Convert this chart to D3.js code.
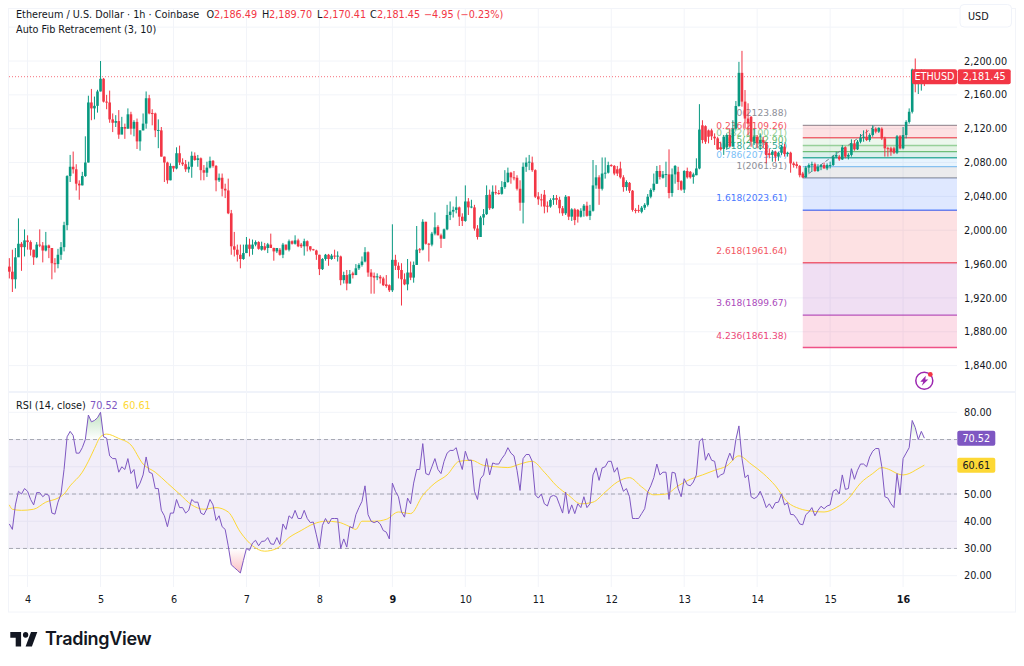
<!DOCTYPE html>
<meta charset="utf-8">
<title>ETHUSD 1h</title>
<style>
  html, body { margin: 0; background: #fff; }
  text { font-family: "DejaVu Sans", sans-serif; font-size: 9.7px; fill: #131722; }
</style>
<svg width="1024" height="666"></svg>
<script src="https://d3js.org/d3.v7.min.js"></script>
<script>

  // hourly candles
  var opens = [1957,1951,1942,1968,1984,1980,1988,1986,1977,1968,1983,1982,1976,1982,1979,1961,1960,1971,1980,2006,2064,2075,2072,2055,2053,2064,2080,2151,2144,2147,2164,2179,2152,2151,2131,2127,2129,2113,2122,2120,2137,2120,2128,2105,2118,2126,2156,2138.5,2138,2118,2118,2087,2080,2059,2076,2073,2091,2080,2078,2072,2075,2088,2083,2085,2071,2068,2074,2082,2076,2059,2062,2049,2047,2020,1981,1977,1971,1966,1973,1983,1978,1983,1986,1977,1981,1979,1983,1979,1975,1977,1971,1983,1977,1987,1984,1988,1983,1981,1987,1981,1977.5,1976,1971,1954,1966,1971,1966,1970,1969,1969,1941,1947,1937,1949,1947,1955,1959,1963,1974,1950,1946,1945,1945,1943,1936,1935,1929,1965,1958,1953,1942,1936,1950,1944,1959,1977.5,1977,2010,1984,1983,1996,2004,1994,1990,2001,2018,2022,2024,2027,2016,2011,2034,2027,2027,2002,1992,2015,2019,2042,2026,2045,2044,2043,2051,2057,2068,2062.5,2062,2049,2032.5,2075,2080,2080,2071,2040,2036.5,2042,2029,2028,2036,2038,2036,2026,2020,2040,2016,2024.6,2024,2016,2023,2029,2017,2023,2053,2062.5,2049,2067,2068,2077,2076,2072,2073,2062.5,2051,2056,2046.7,2024,2024,2021.8,2026.6,2030,2039.6,2047.5,2055,2070,2062,2066,2066,2044,2066,2069,2058,2048,2070,2069,2063,2065,2073,2124,2123,2118,2118,2110.5,2108.6,2098,2096,2098,2112.5,2099,2120,2146.8,2186,2152,2132,2134,2104.6,2110.5,2102.7,2106.6,2103.5,2091,2089,2092.8,2087,2091.6,2098.7,2090,2091.6,2079,2078,2076,2067,2062.5,2074,2077,2078,2070,2075,2077,2073,2076,2077,2087,2087,2083.7,2098,2087,2089,2102.7,2095.6,2104.6,2109.4,2110.5,2106.6,2112.5,2120,2116.5,2120,2108.6,2097,2096.8,2096.8,2091.6,2111,2096.8,2112.5,2128,2140,2190,2178,2184,2186.49];
  var highs = [1967,1977,1979,2014,1986,2001,1994,1988,1977,1986,2001,1986,1998,1983,1979,1967,1978,1986,2010,2065,2089,2093,2078,2059,2069,2111,2159,2167,2158,2166,2200,2180,2160,2165,2138,2136,2142,2134,2126,2144,2140,2130,2132,2118,2138,2164,2160,2143,2139,2131,2122,2087,2081,2079,2076,2098,2100,2085,2083,2081,2093,2092,2089,2086,2077,2081,2087,2083,2077,2067,2067,2055,2061,2024,1998,1983,1983,1983,1992,1990,1989,1988,1987,1986.5,1985,1985,1996,1979.4,1979,1979,1985,1983,1989,1988,1994,1990,1985,1990,1988,1981,1978,1977,1971,1967,1972,1972,1972,1977,1975,1970,1951,1953,1953,1951,1960,1961,1969,1980,1975,1954,1950,1949,1947,1945,1947,1936,2007,1971,1962,1961,1949,1966,1963,1963,2005,1979,2013,2010,1985,1998,2021,2006,1996,2002,2030,2034,2028,2040,2028,2020,2053,2038,2036,2030,2006,2017,2025,2053,2048,2053,2053,2047.5,2058,2071,2074,2069,2070,2065,2059,2080,2086,2089,2087,2072,2045,2043,2047.5,2034,2037.7,2041.6,2041.6,2039.6,2028.6,2041.6,2040,2026,2026,2025,2026,2031,2033.7,2030,2083,2077,2065,2086,2086,2081,2078,2077,2076,2081,2065,2059,2057,2047.5,2026,2030,2028.6,2032,2042.8,2049.5,2067,2076,2077,2070,2081,2095.6,2073,2077,2075,2059,2071,2074,2070,2068,2085,2149,2130,2124,2119,2120,2114.5,2110.5,2104.6,2112.5,2114.5,2120,2130,2152.7,2199,2212,2165.7,2150,2135,2120,2112.5,2114.5,2110.5,2104.6,2096.8,2094.8,2094,2092.8,2100.7,2102,2092.8,2092.8,2081,2081,2077,2069,2076,2079,2081,2080,2078,2078,2080,2079,2081,2089,2092.8,2089,2100.7,2099,2091,2107.4,2106.6,2106.6,2113.7,2118,2119,2114.5,2124,2121.6,2121.6,2121.6,2110.5,2098.7,2098.7,2098.7,2112.5,2112.5,2122,2130,2144,2191,2203,2188,2190,2189.7];
  var lows = [1943,1927,1931,1969,1952,1969,1977,1970,1959,1967,1980,1962,1975,1967,1942,1950,1955,1965,1975,2000,2057,2067,2047,2036,2053,2063,2080,2130,2131,2139,2164,2151,2143,2127,2116,2122,2108,2114,2108,2120,2113,2111,2096,2094,2118,2120,2137,2124,2110,2097,2087,2057,2055,2059,2069,2072,2077,2076,2069,2068,2062,2082,2075,2059,2059,2063,2073,2074,2046,2057,2040,2038,2019,1971,1969,1963,1955,1965,1973,1969,1971,1981,1977,1975.8,1976,1973,1979,1964,1973,1970,1967,1976,1975,1983,1983,1980,1979,1970,1975,1975,1976,1965,1947,1953,1964,1958,1965,1966,1963,1935,1937,1929,1937,1943,1947,1953,1957,1962,1945,1925,1925,1941,1937,1934,1932,1927,1927,1953,1943,1911,1935,1929,1941,1938,1959,1973,1976,1983,1963,1981,1994,1994,1979,1990,2000,2012,2015,2020,2005,2005,2010,2018,2026,1999.5,1989,1992,2006,2018,2024,2025,2042,2042,2042,2049,2056,2055,2059,2047,2023,2008,2069,2071,2069,2038,2030,2028,2020,2021,2026.6,2030,2030,2020,2017,2018,2012,2011,2006,2009,2015,2016,2016,2012,2022,2049,2030,2047,2061,2067,2075,2065,2064,2061,2045.5,2046.7,2044,2022,2020,2020.7,2020,2024,2028,2037.7,2045.5,2054.6,2060,2061,2051,2037.7,2039.6,2055,2047.5,2046.7,2044,2061,2061,2055,2065,2072,2102.7,2102,2102.7,2106.6,2100.7,2094.8,2094,2089,2095,2098.7,2098.7,2118,2146,2146,2120,2112.5,2098.7,2100.7,2096.8,2094.8,2096.8,2079,2085,2081,2081,2082,2089,2087,2087,2068,2074,2073,2062.5,2061.91,2061.91,2068,2069,2069,2069,2071,2073,2071,2073,2076,2085,2082,2083,2085,2083.7,2087,2094,2094.8,2102.7,2104.6,2105.4,2104.6,2110.5,2114.5,2115,2106.6,2087,2087,2088,2090,2090,2095.6,2095.6,2108.6,2126,2138,2163,2161,2165,2170.41];
  var closes = [1951,1942,1968,1984,1980,1988,1986,1977,1968,1983,1982,1976,1982,1979,1961,1960,1971,1980,2006,2064,2075,2072,2055,2053,2064,2080,2151,2144,2147,2164,2179,2152,2151,2131,2127,2129,2113,2122,2120,2137,2120,2128,2105,2118,2126,2156,2138,2138,2118,2118.5,2087,2080,2059,2076,2073,2091,2080,2078,2072,2075,2088,2083,2085,2071,2068,2074,2082,2076,2059,2062,2049,2047,2020,1981,1977,1971,1966,1973,1983,1978,1983,1986,1978,1981.4,1977,1983.3,1979,1975,1979,1971,1983,1977,1987,1984,1988,1981,1981,1987,1981,1977,1976.5,1971,1954,1966,1971,1966,1970,1969,1970,1941,1947,1937,1948,1947,1955,1959,1963,1974,1950,1945,1944,1945.5,1943,1935,1934,1929,1965,1958,1953,1942,1936,1950,1944,1959,1977,1977,2010,1984,1983,1996,2003.4,1994,1990,2001,2018,2022,2024,2027,2016,2011,2034,2027,2028,2002,1992,2015,2019,2041.6,2026,2045.5,2044,2043,2051,2057,2068,2062.5,2062,2049,2032.5,2075,2080,2081,2071,2039.6,2036.5,2036,2028,2028.6,2035.7,2037.7,2036,2026,2020,2039.6,2016,2024.6,2012,2016,2023,2029,2017,2023,2053,2062.5,2049,2067,2068,2077,2076,2067,2067,2062.5,2051,2057,2046.7,2024,2022.7,2023,2026.6,2030,2039.6,2047.5,2055,2070,2063,2066,2066.4,2044,2066,2076,2057,2048,2070,2062.5,2062.5,2066,2073,2119,2106.6,2104.6,2110.5,2111,2108.6,2095.6,2095.6,2110.5,2112.5,2099,2120,2146.8,2186,2152,2132,2126,2104.6,2110.5,2102.7,2106.6,2103.5,2088.9,2088.9,2092.8,2087,2091.6,2098.7,2090,2091.6,2079,2077,2075.9,2065,2062.5,2074,2077,2078,2070,2075,2077,2073,2077,2077,2087,2089,2083.7,2098,2087,2089,2102.7,2095.6,2104.6,2109.4,2110.5,2106.6,2112.5,2120,2116.5,2121,2108.6,2096.8,2096,2092.8,2091.6,2111,2096.8,2112.5,2128,2140,2190,2178,2184,2186,2181.45];

  // RSI (14, close), one value per candle
  var rsi = [39,37,46,51,50,52,51,48,46,50.5,50.5,49,50,49.5,43,42.6,47,50,59,71,73,71.5,65,65,67,70,79,76.5,77,78,80,71,70.5,64,63,63,58,60,59,63,57.5,59,52,54,57,63.6,58,57.5,52,52,44,42,38,43,43,48,45,45,43,44,48,47,47,43,42.4,44.6,48,46,40.3,42,38,37,31,24,23,22,21,25.6,30,29.3,32,33,31,32.6,32.7,34,31.7,31.5,34,31.5,39,37,42,41,44,41,41,44,41,39.5,39.7,35,30,38.5,41,39,41,41,41,30,33.5,30.5,38,37.5,42.4,45,47.3,53,42.4,40,39.5,40,39,36.6,36,33.5,54,51,49,43.4,41.5,48.5,46.4,54,59,59,68.5,57.5,57,60,63,59,57.5,62,65,66,66,67,62.4,59,65.7,62.4,62.4,51,48,55.6,57,63,57,61.4,61,61,63,64.5,67,65,64,58.7,51.3,63,64.5,64.5,62,49.7,48.5,50,46.4,45.6,49,49.5,49,46,43,50.7,42.8,46,42.8,46.4,45,49,45,46.4,57,59.6,55,59.6,60,62,62,58,59.7,54.4,51,52,49,41,41,41,42.8,44.6,50.7,53,56,61,57,58,58,48,58,57.7,52,49,55.6,53.4,53,54.4,57,69.4,70.4,62.4,65,62.4,62,56,57,57.5,62,65,62.4,70,75,63,56,57,49,48.3,49,51,48.3,45,46.4,44.6,46.8,47,50,46,46.8,42.5,42.4,41,39,38.7,42.4,43.4,45,42,44,45.5,44.6,45.6,46,51,51.7,50,57,51.7,52,59.3,55.4,58.7,61,61,60,63.6,65.7,66.7,66.7,60,49,48.5,46.4,45,57.5,49.7,63,65,67,77,74.4,70,73,70.52];

  // RSI moving average, read at these candles
  var maIndex = [0,1,4,8,12,16,18,20,24,26,28,30,32,36,40,44,48,52,56,60,64,68,72,76,80,84,88,92,96,100,104,108,112,114,116,120,124,128,132,136,140,144,148,152,156,160,164,168,172,176,180,184,188,192,196,200,204,208,212,216,220,224,228,232,236,240,244,248,252,256,260,264,268,272,276,280,284,287,290,292,294,296,298,301];
  var maValues = [46,44.4,44,44.4,47,48.5,50,53,58,62,66.7,71,72,70.4,68,61,58,54,50,46,44.4,45,43.4,36,31,29,30,34,36.6,39,40,39.7,38,37,40,40,40.7,43.4,42.8,49.5,54,57,62,62.4,60.5,60,59.7,61,62,58,53,49.5,46.4,47,50.7,54.4,56,52.6,49.7,50,53,55.4,57,58.7,60.3,64,61,57.5,53,47,44.6,43.7,43.4,45,48.3,54,57.5,59.7,58.7,57.5,57,57.5,58.7,60.61];

  // auto fib levels
  var fibRatios = ["0","0.236","0.382","0.5","0.618","0.786","1","1.618","2.618","3.618","4.236"];
  var fibPrices = [2123.88,2109.26,2100.21,2092.90,2085.58,2075.17,2061.91,2023.61,1961.64,1899.67,1861.38];
  var fibColors = ["#787b86","#f23645","#81c784","#4caf50","#089981","#64b5f6","#787b86","#2962ff","#f23645","#9c27b0","#e91e63"];

  var priceTicks = [2240,2200,2160,2120,2080,2040,2000,1960,1920,1880,1840];
  var rsiTicks = [80,70,60,50,40,30,20];
  var dayLabels = ["4","5","6","7","8","9","10","11","12","13","14","15","16"];
  var dayIndex = [6,30,54,78,102,126,150,174,198,222,246,270,294];
  var boldDays = ["9","16"];

  var lastPrice = 2181.45, lastRsi = 70.52, lastMa = 60.61, fibFrom = 261, fibTo = 285;
  var up = "#089981", down = "#f23645", gridColor = "#f2f4f9";

  var svg = d3.select("svg");
  var x = d3.scaleLinear().domain([0, 301]).range([9.33, 924.37]);
  var y = d3.scaleLinear().domain([2200, 1840]).range([61, 365.6]);
  var yr = d3.scaleLinear().domain([80, 20]).range([412.3, 575.7]);
  var right = 957, fmt = d3.format(",.2f");

  var defs = svg.append("defs");
  defs.append("clipPath").attr("id", "over").append("rect").attr("x", 9).attr("y", 393).attr("width", 948).attr("height", yr(70) - 393);
  defs.append("clipPath").attr("id", "under").append("rect").attr("x", 9).attr("y", yr(30)).attr("width", 948).attr("height", 40);
  var g1 = defs.append("linearGradient").attr("id", "gOver").attr("gradientUnits", "userSpaceOnUse").attr("x1", 0).attr("x2", 0).attr("y1", yr(80)).attr("y2", yr(70));
  g1.append("stop").attr("offset", 0).attr("stop-color", "#4caf50").attr("stop-opacity", 0.35);
  g1.append("stop").attr("offset", 1).attr("stop-color", "#4caf50").attr("stop-opacity", 0);
  var g2 = defs.append("linearGradient").attr("id", "gUnder").attr("gradientUnits", "userSpaceOnUse").attr("x1", 0).attr("x2", 0).attr("y1", yr(30)).attr("y2", yr(20));
  g2.append("stop").attr("offset", 0).attr("stop-color", "#f23645").attr("stop-opacity", 0);
  g2.append("stop").attr("offset", 1).attr("stop-color", "#f23645").attr("stop-opacity", 0.35);

  // frame and pane divider
  svg.append("rect").attr("x", 8.5).attr("y", 8.5).attr("width", 1007).attr("height", 603.5).attr("fill", "none").attr("stroke", gridColor);
  svg.append("rect").attr("x", 9).attr("y", 391).attr("width", 1006).attr("height", 2).attr("fill", "#f0f3fa");

  // grid
  svg.append("g").selectAll("line").data(priceTicks).enter().append("line")
      .attr("x1", 9).attr("x2", right).attr("y1", function(d) { return y(d); }).attr("y2", function(d) { return y(d); })
      .attr("stroke", gridColor);
  svg.append("g").selectAll("line").data(rsiTicks).enter().append("line")
      .attr("x1", 9).attr("x2", right).attr("y1", function(d) { return yr(d); }).attr("y2", function(d) { return yr(d); })
      .attr("stroke", gridColor);
  svg.append("g").selectAll("line").data(dayIndex).enter().append("line")
      .attr("x1", function(d) { return x(d); }).attr("x2", function(d) { return x(d); })
      .attr("y1", 9).attr("y2", 587).attr("stroke", gridColor);

  // fib bands, lines, labels
  var fibLeft = x(fibFrom);
  var fib = svg.append("g");
  fibPrices.forEach(function(p, i) {
    if (i > 0) {
      fib.append("rect").attr("x", fibLeft).attr("width", right - fibLeft)
          .attr("y", y(fibPrices[i - 1])).attr("height", y(p) - y(fibPrices[i - 1]))
          .attr("fill", fibColors[i]).attr("fill-opacity", 0.15);
    }
    fib.append("line").attr("x1", fibLeft).attr("x2", right).attr("y1", y(p)).attr("y2", y(p))
        .attr("stroke", fibColors[i]).attr("stroke-width", 1.4).attr("stroke-opacity", 0.75);
    fib.append("text").attr("x", 787).attr("y", y(p) - 9).attr("text-anchor", "end")
        .style("fill", fibColors[i]).style("font-size", "9.1px").style("opacity", 0.85)
        .text(fibRatios[i] + "(" + d3.format(".2f")(p) + ")");
  });
  fib.append("line").attr("x1", x(fibFrom)).attr("x2", x(fibTo)).attr("y1", y(fibPrices[6])).attr("y2", y(fibPrices[0]))
      .attr("stroke", "#787b86").attr("stroke-dasharray", "4 3");

  // last price line
  svg.append("line").attr("x1", 9).attr("x2", right).attr("y1", y(lastPrice)).attr("y2", y(lastPrice))
      .attr("stroke", down).attr("stroke-opacity", 0.7).attr("stroke-dasharray", "1 2");

  // candles
  var candles = svg.append("g").selectAll("g").data(d3.range(opens.length)).enter().append("g")
      .attr("fill", function(i) { return closes[i] >= opens[i] ? up : down; })
      .attr("stroke", "none");
  candles.append("rect").attr("x", function(i) { return x(i) - 0.5; }).attr("width", 1)
      .attr("y", function(i) { return y(highs[i]); })
      .attr("height", function(i) { return y(lows[i]) - y(highs[i]); });
  candles.append("rect").attr("x", function(i) { return x(i) - 1.3; }).attr("width", 2.6)
      .attr("y", function(i) { return y(Math.max(opens[i], closes[i])); })
      .attr("height", function(i) { return Math.max(1, Math.abs(y(opens[i]) - y(closes[i]))); });

  // RSI pane
  svg.append("rect").attr("x", 9).attr("width", right - 9).attr("y", yr(70)).attr("height", yr(30) - yr(70))
      .attr("fill", "#7e57c2").attr("fill-opacity", 0.1);
  [70, 50, 30].forEach(function(v) {
    svg.append("line").attr("x1", 9).attr("x2", right).attr("y1", yr(v)).attr("y2", yr(v))
        .attr("stroke", "#787b86").attr("stroke-opacity", 0.6).attr("stroke-dasharray", "4 3");
  });
  var xi = function(d, i) { return x(i); };
  svg.append("path").datum(rsi).attr("clip-path", "url(#over)").attr("fill", "url(#gOver)")
      .attr("d", d3.area().x(xi).y0(yr(70)).y1(function(d) { return yr(d); }));
  svg.append("path").datum(rsi).attr("clip-path", "url(#under)").attr("fill", "url(#gUnder)")
      .attr("d", d3.area().x(xi).y0(yr(30)).y1(function(d) { return yr(d); }));
  svg.append("path").datum(maValues).attr("fill", "none").attr("stroke", "#fdd835").attr("stroke-width", 1)
      .attr("d", d3.line().x(function(d, i) { return x(maIndex[i]); }).y(function(d) { return yr(d); }).curve(d3.curveMonotoneX));
  svg.append("path").datum(rsi).attr("fill", "none").attr("stroke", "#7e57c2").attr("stroke-width", 1)
      .attr("d", d3.line().x(xi).y(function(d) { return yr(d); }));

  // axes
  var priceAxis = d3.axisRight(y).tickValues(priceTicks.slice(1)).tickSize(0).tickPadding(7).tickFormat(fmt);
  var pa = svg.append("g").attr("transform", "translate(" + right + ",0)").call(priceAxis);
  var rsiAxis = d3.axisRight(yr).tickValues([80, 50, 40, 30, 20]).tickSize(0).tickPadding(7).tickFormat(d3.format(".2f"));
  var ra = svg.append("g").attr("transform", "translate(" + right + ",0)").call(rsiAxis);
  var dayAxis = d3.axisBottom(x).tickValues(dayIndex).tickSize(0).tickPadding(0)
      .tickFormat(function(d, i) { return dayLabels[i]; });
  var da = svg.append("g").attr("transform", "translate(0,596)").call(dayAxis);
  [pa, ra, da].forEach(function(a) {
    a.select(".domain").remove();
    a.attr("font-family", null).attr("font-size", null);
  });
  da.selectAll("text").style("font-weight", function(d, i) { return boldDays.indexOf(dayLabels[i]) >= 0 ? "bold" : "normal"; });

  // price tags
  function tag(x0, w, yc, color, label, textColor) {
    svg.append("rect").attr("x", x0).attr("y", yc - 7.5).attr("width", w).attr("height", 15).attr("rx", 2).attr("fill", color);
    svg.append("text").attr("x", x0 + w / 2).attr("y", yc + 3.5).attr("text-anchor", "middle").style("fill", textColor).text(label);
  }
  tag(912, 45, y(lastPrice), down, "ETHUSD", "#fff");
  tag(957.7, 53, y(lastPrice), down, fmt(lastPrice), "#fff");
  tag(957.3, 38, 438.2, "#7e57c2", d3.format(".2f")(lastRsi), "#fff");
  tag(957.3, 38, 465.2, "#fdd835", d3.format(".2f")(lastMa), "#131722");

  // legends
  function label(x0, y0, s, color) {
    svg.append("text").attr("x", x0).attr("y", y0).style("fill", color || "#131722").text(s);
  }
  label(16, 18, "Ethereum / U.S. Dollar · 1h · Coinbase");
  label(206.5, 18, "O"); label(214, 18, fmt(opens[301]), down);
  label(262, 18, "H"); label(269, 18, fmt(highs[301]), down);
  label(317, 18, "L"); label(323, 18, fmt(lows[301]), down);
  label(370, 18, "C"); label(377, 18, fmt(closes[301]), down);
  label(424, 18, "−4.95 (−0.23%)", down);
  label(16, 33, "Auto Fib Retracement (3, 10)");
  label(16, 409, "RSI (14, close)");
  label(90, 409, d3.format(".2f")(lastRsi), "#7e57c2");
  label(123, 409, d3.format(".2f")(lastMa), "#fdd835");

  // currency button
  svg.append("rect").attr("x", 960).attr("y", 4.5).attr("width", 51.5).attr("height", 22.5).attr("rx", 4)
      .attr("fill", "#fff").attr("stroke", "#f0f3fa");
  label(968, 19.5, "USD");

  // bolt badge
  var bolt = svg.append("g").attr("transform", "translate(924.3,380.7)");
  bolt.append("circle").attr("r", 8.5).attr("fill", "#fff").attr("stroke", "#9c27b0").attr("stroke-width", 1.5);
  bolt.append("path").attr("d", "M1.5-5L-4 1h3l-1.5 4L4-1.2H1z").attr("fill", "#9c27b0");
  bolt.append("circle").attr("cx", 6).attr("cy", -6.3).attr("r", 2.4).attr("fill", down);

  // logo
  svg.append("path").attr("transform", "translate(8.5,626) scale(0.9,0.98)").attr("fill", "#131722")
      .attr("d", "M14 6H2v6h6v9h6V6Zm12 15h-7l6-15h7l-6 15Zm-7-9a3 3 0 1 0 0-6 3 3 0 0 0 0 6Z");
  svg.append("text").attr("x", 45).attr("y", 645).style("font-family", "Inter").style("font-size", "18px")
      .style("font-weight", 600).style("letter-spacing", "-0.3px").text("TradingView");

</script>
